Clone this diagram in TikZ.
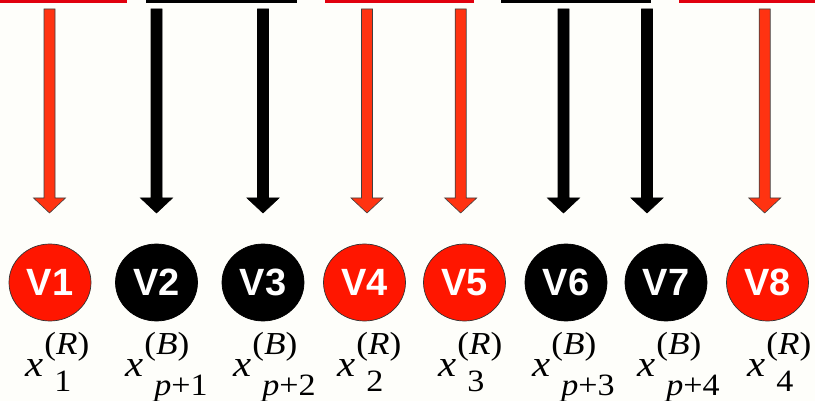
\documentclass[tikz,border=0pt]{standalone}
\usepackage{fontspec}
\setmainfont{Liberation Serif}
\setsansfont{Liberation Sans}
\usetikzlibrary{shapes.geometric}

\definecolor{vred}{RGB}{255,22,0}
\definecolor{ared}{RGB}{255,51,17}
\definecolor{bred}{RGB}{225,0,14}
\definecolor{paper}{RGB}{254,254,250}

\tikzset{blockarrow/.pic={\path[pic actions] (-5.5,0) -- (-5.5,189) -- (-16,189) -- (0,204) -- (16,189) -- (5.5,189) -- (5.5,0) -- cycle;}}

% x with a superscript over a subscript
\newcommand{\xlab}[3]{\scalebox{1.1}[1]{\textit{x}\kern1pt\rlap{\raisebox{22pt}{\fontsize{32}{32}\selectfont(\textit{#1})}}\kern9pt\raisebox{-#3}{\fontsize{31}{31}\selectfont #2}}}

\begin{document}
\begin{tikzpicture}[x=1pt,y=-1pt,
  vnode/.style={ellipse,line width=0.7pt,minimum width=82pt,minimum height=77pt,inner sep=0pt,text=white,font=\sffamily\bfseries\fontsize{38}{38}\selectfont},
  rednode/.style={vnode,fill=vred,draw=black!80},
  blacknode/.style={vnode,fill=black,draw=black},
  redarrow/.style={fill=ared,draw=black!75,line width=0.6pt},
  blackarrow/.style={fill=black,draw=black,line width=0.6pt},
  redbar/.style={draw=bred,line width=3pt,fill=white,inner sep=0pt,outer sep=0pt,minimum height=40pt},
  blackbar/.style={draw=black,line width=3pt,fill=white,inner sep=0pt,outer sep=0pt,minimum height=40pt},
  lab/.style={anchor=base west,inner sep=0pt,font=\fontsize{37}{37}\selectfont}]
\useasboundingbox (0,0) rectangle (815,401);
\fill[paper] (0,0) rectangle (815,401);
\clip (0,0) rectangle (815,401);

% BARS
\node[redbar,minimum width=140pt,anchor=south east] (bar1) at (125.5,1.5) {};
\node[blackbar,minimum width=148.5pt,anchor=south west] (bar2) at (147,1.5) {};
\node[redbar,minimum width=146pt,anchor=south west] (bar3) at (326.5,1.5) {};
\node[blackbar,minimum width=147.5pt,anchor=south west] (bar4) at (502,1.5) {};
\node[redbar,minimum width=150pt,anchor=south west] (bar5) at (680.5,1.5) {};

% NODES
\node[rednode] (v1) at (50,282.5) {V1};
\node[blacknode] (v2) at (156.5,282.5) {V2};
\node[blacknode] (v3) at (263,282.5) {V3};
\node[rednode] (v4) at (364.5,282.5) {V4};
\node[rednode] (v5) at (464.5,282.5) {V5};
\node[blacknode] (v6) at (566,282.5) {V6};
\node[blacknode] (v7) at (666,282.5) {V7};
\node[rednode] (v8) at (767.5,282.5) {V8};

% CONNECTIONS
\coordinate (a1) at (49.5,9);
\coordinate (a2) at (156.5,9);
\coordinate (a3) at (263,9);
\coordinate (a4) at (367,9);
\coordinate (a5) at (460.7,9);
\coordinate (a6) at (563.5,9);
\coordinate (a7) at (647,9);
\coordinate (a8) at (764.7,9);

\pic[redarrow] at (a1) {blockarrow};
\pic[blackarrow] at (a2) {blockarrow};
\pic[blackarrow] at (a3) {blockarrow};
\pic[redarrow] at (a4) {blockarrow};
\pic[redarrow] at (a5) {blockarrow};
\pic[blackarrow] at (a6) {blockarrow};
\pic[blackarrow] at (a7) {blockarrow};
\pic[redarrow] at (a8) {blockarrow};

% NODE NAMES
\node[lab] (l1) at (25,376) {\xlab{R}{1}{15pt}};
\node[lab] (l2) at (125,376) {\xlab{B}{\textit{p}+1}{19pt}};
\node[lab] (l3) at (233,376) {\xlab{B}{\textit{p}+2}{19pt}};
\node[lab] (l4) at (337,376) {\xlab{R}{2}{15pt}};
\node[lab] (l5) at (438,376) {\xlab{R}{3}{15pt}};
\node[lab] (l6) at (532,376) {\xlab{B}{\textit{p}+3}{19pt}};
\node[lab] (l7) at (637,376) {\xlab{B}{\textit{p}+4}{19pt}};
\node[lab] (l8) at (747,376) {\xlab{R}{4}{15pt}};
\end{tikzpicture}
\end{document}
